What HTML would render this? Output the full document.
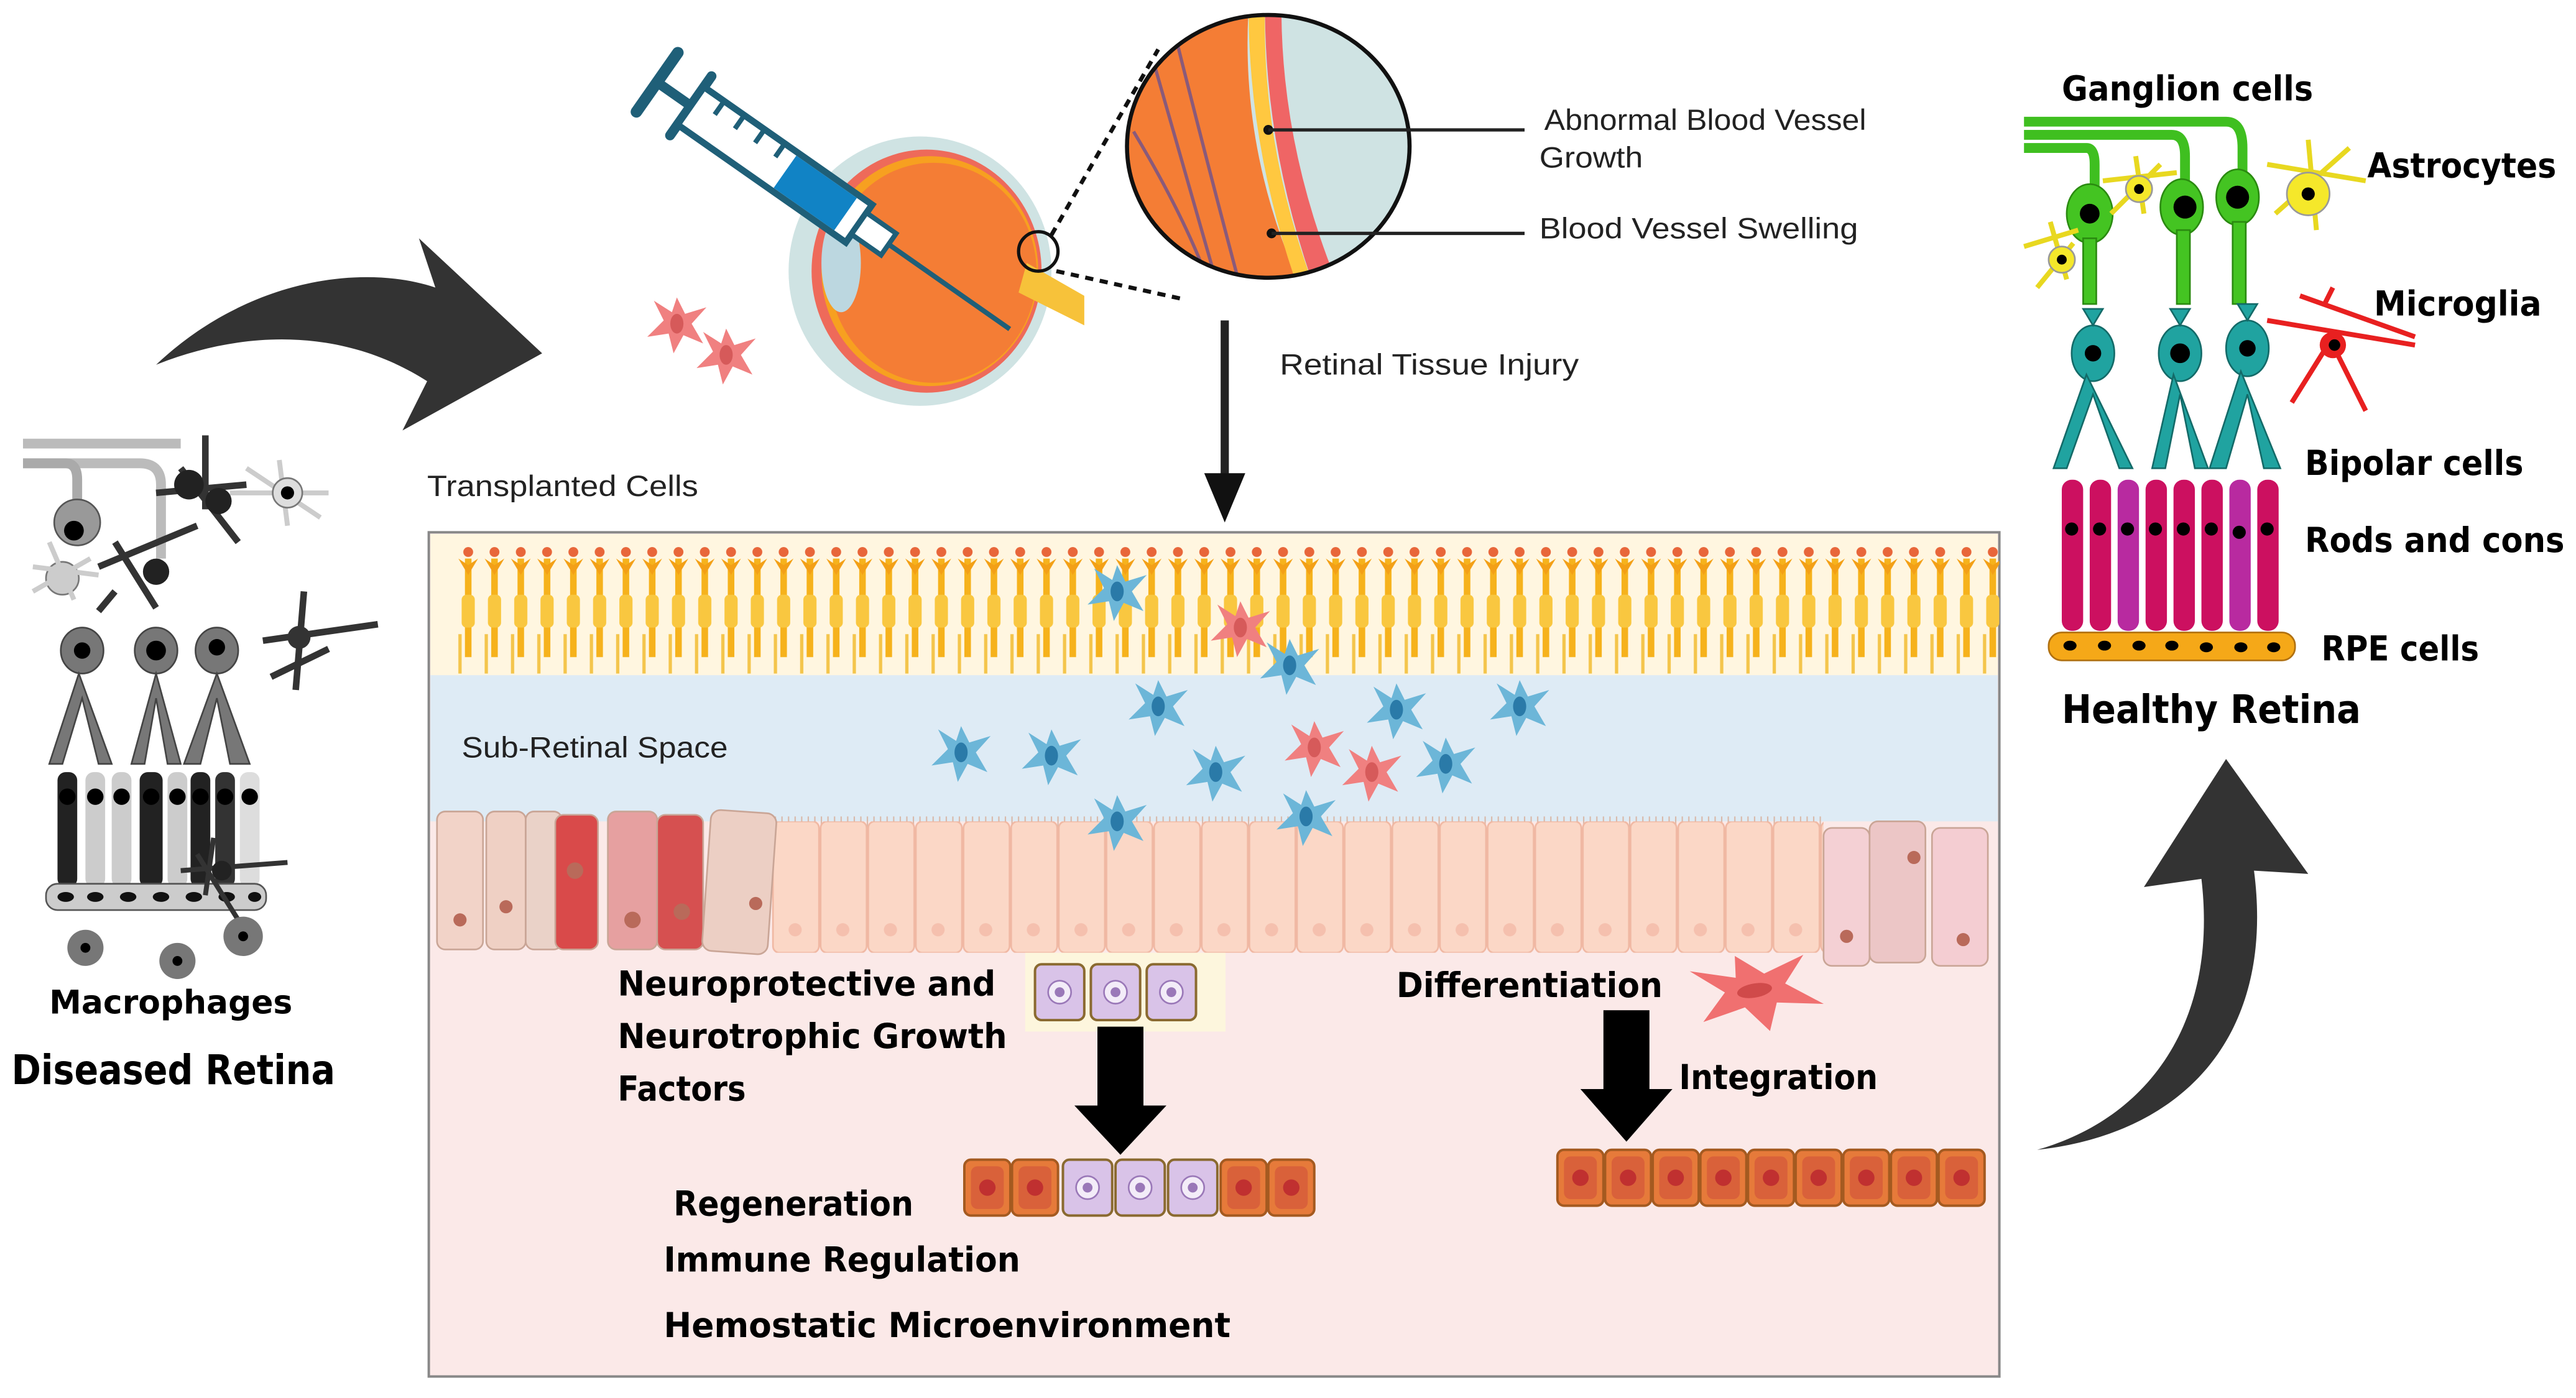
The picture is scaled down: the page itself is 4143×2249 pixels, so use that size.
<!DOCTYPE html>
<html><head><meta charset="utf-8"><style>
html,body{margin:0;padding:0;background:#fff;}
svg{display:block;}
.b{font-family:"DejaVu Sans","Liberation Sans",sans-serif;font-weight:bold;fill:#000;}
.r{font-family:"Liberation Sans","DejaVu Sans",sans-serif;fill:#222;}
</style></head><body>
<svg width="4143" height="2249" viewBox="0 0 1568 851" xmlns="http://www.w3.org/2000/svg">
<defs>
<pattern id="photo" x="277" y="326" width="16" height="86" patternUnits="userSpaceOnUse">
<rect x="6" y="14" width="4" height="60" fill="#f6b21c"/>
<path d="M2 14 L8 24 L14 14 L8 18Z" fill="#f3a016"/>
<circle cx="8" cy="10" r="3" fill="#e8663a"/>
<rect x="4" y="36" width="8" height="20" rx="3" fill="#f9c740"/>
<line x1="3" y1="60" x2="3" y2="84" stroke="#f4c54c" stroke-width="2"/>
</pattern>
<pattern id="peach" x="470" y="500" width="29" height="80" patternUnits="userSpaceOnUse">
<rect x="0.5" y="0" width="28" height="80" rx="4" fill="#fbd7c6" stroke="#f0b8a3" stroke-width="1"/>
<circle cx="14" cy="66" r="4" fill="#f5c0ae"/>
</pattern>
<pattern id="cilia" x="470" y="497" width="4" height="16" patternUnits="userSpaceOnUse">
<line x1="2" y1="0" x2="2" y2="16" stroke="#d8b8a8" stroke-width="0.8"/>
</pattern>
<g id="blue"><path d="M0 -16 L5 -6 L18 -10 L9 0 L16 12 L4 7 L-2 18 L-5 6 L-18 8 L-8 -2 L-14 -14 L-3 -7Z" fill="#6cb6d8"/><ellipse cx="0" cy="0" rx="4" ry="6" fill="#2a7aa8"/></g>
<g id="redc"><path d="M0 -16 L5 -6 L18 -10 L9 0 L16 12 L4 7 L-2 18 L-5 6 L-18 8 L-8 -2 L-14 -14 L-3 -7Z" fill="#f08080"/><ellipse cx="0" cy="0" rx="4" ry="6" fill="#d65a5a"/></g>
<g id="orc"><rect x="0" y="0" width="28" height="34" rx="4" fill="#e67a3a" stroke="#a45a20" stroke-width="1.5"/><rect x="4" y="4" width="20" height="26" rx="4" fill="#d9613a"/><circle cx="14" cy="17" r="5" fill="#c03030"/></g>
<g id="lav"><rect x="0" y="0" width="30" height="34" rx="4" fill="#d9c3e8" stroke="#8a6a30" stroke-width="1.5"/><circle cx="15" cy="17" r="7" fill="#f3ecf8" stroke="#9a78b8"/><circle cx="15" cy="17" r="3" fill="#9a78b8"/></g>
</defs>

<!-- left curved arrow -->
<path d="M95 222 C150 170 220 160 265 175 L255 145 L330 215 L245 262 L260 232 C210 200 150 200 95 222Z" fill="#333"/>

<!-- right curved arrow -->
<path d="M1240 700 C1310 680 1350 620 1340 535 L1305 540 L1355 462 L1405 532 L1372 530 C1385 630 1330 690 1240 700Z" fill="#333"/>

<!-- Diseased retina (grayscale) -->
<g>
<path d="M14 270 L110 270 M14 282 L85 282 Q98 282 98 295 L98 340" stroke="#bbb" stroke-width="6" fill="none"/>
<path d="M14 282 L40 282 Q47 282 47 292 L47 330" stroke="#aaa" stroke-width="6" fill="none"/>
<circle cx="47" cy="318" r="14" fill="#999" stroke="#555"/>
<circle cx="38" cy="352" r="10" fill="#ccc" stroke="#777"/>
<g stroke="#ccc" stroke-width="3" fill="none"><path d="M20 345 L60 350 M30 330 L45 365 M20 360 L55 340"/><path d="M140 300 L200 300 M170 280 L175 320 M150 285 L195 315"/></g>
<circle cx="175" cy="300" r="9" fill="#ddd" stroke="#777"/><circle cx="175" cy="300" r="4" fill="#000"/>
<g stroke="#333" stroke-width="4" fill="none"><path d="M60 345 L120 320 M70 330 L95 370 M95 300 L150 295 M110 285 L145 330 M125 265 L125 310 M70 360 L60 372 M160 390 L230 380 M185 360 L180 420 M165 412 L200 395"/></g>
<circle cx="95" cy="348" r="8" fill="#222"/><circle cx="115" cy="295" r="9" fill="#222"/><circle cx="133" cy="305" r="8" fill="#222"/><circle cx="45" cy="323" r="6" fill="#000"/>
<circle cx="182" cy="388" r="7" fill="#333"/>
<g fill="#777" stroke="#444" stroke-width="1">
<ellipse cx="50" cy="396" rx="13" ry="14"/><ellipse cx="95" cy="396" rx="13" ry="14"/><ellipse cx="132" cy="396" rx="13" ry="14"/>
<path d="M48 410 L30 465 L38 465 L50 425 L60 465 L68 465Z"/><path d="M95 410 L80 465 L88 465 L95 425 L102 465 L110 465Z"/><path d="M132 410 L112 465 L122 465 L132 425 L140 465 L152 465Z"/>
</g>
<circle cx="50" cy="396" r="5" fill="#000"/><circle cx="95" cy="396" r="6" fill="#000"/><circle cx="132" cy="394" r="5" fill="#000"/>
<g>
<rect x="35" y="470" width="12" height="70" rx="5" fill="#222"/><rect x="52" y="470" width="12" height="70" rx="5" fill="#ccc"/><rect x="68" y="470" width="12" height="70" rx="5" fill="#ccc"/><rect x="85" y="470" width="14" height="70" rx="5" fill="#222"/><rect x="102" y="470" width="12" height="70" rx="5" fill="#ccc"/><rect x="116" y="470" width="12" height="70" rx="5" fill="#222"/><rect x="131" y="470" width="12" height="70" rx="5" fill="#333"/><rect x="146" y="470" width="12" height="70" rx="5" fill="#ddd"/>
</g>
<g fill="#000"><circle cx="41" cy="485" r="5"/><circle cx="58" cy="485" r="5"/><circle cx="74" cy="485" r="5"/><circle cx="92" cy="485" r="5"/><circle cx="108" cy="485" r="5"/><circle cx="122" cy="485" r="5"/><circle cx="137" cy="485" r="5"/><circle cx="152" cy="485" r="5"/></g>
<rect x="28" y="538" width="134" height="16" rx="7" fill="#ccc" stroke="#555"/>
<g fill="#111"><ellipse cx="40" cy="546" rx="5" ry="3"/><ellipse cx="58" cy="546" rx="5" ry="3"/><ellipse cx="78" cy="546" rx="5" ry="3"/><ellipse cx="98" cy="546" rx="5" ry="3"/><ellipse cx="118" cy="546" rx="5" ry="3"/><ellipse cx="138" cy="546" rx="5" ry="3"/><ellipse cx="155" cy="546" rx="4" ry="3"/></g>
<g stroke="#333" stroke-width="3" fill="none"><path d="M110 530 L175 525 M120 520 L145 560 M130 510 L125 545"/></g>
<circle cx="135" cy="530" r="6" fill="#222"/>
<g fill="#777"><circle cx="52" cy="577" r="11"/><circle cx="108" cy="585" r="11"/><circle cx="148" cy="570" r="12"/></g>
<g fill="#000"><circle cx="52" cy="577" r="3"/><circle cx="108" cy="585" r="3"/><circle cx="148" cy="570" r="3"/></g>
</g>
<text class="b" x="30" y="617" font-size="20" textLength="148" lengthAdjust="spacingAndGlyphs">Macrophages</text>
<text class="b" x="7" y="660" font-size="25" textLength="197" lengthAdjust="spacingAndGlyphs">Diseased Retina</text>

<!-- eye -->
<ellipse cx="560" cy="165" rx="80" ry="82" fill="#cfe3e3"/>
<ellipse cx="564" cy="165" rx="70" ry="74" fill="#ee6a5a"/>
<ellipse cx="566" cy="165" rx="66" ry="70" fill="#f7a020"/>
<ellipse cx="568" cy="166" rx="63" ry="67" fill="#f47d35"/>
<ellipse cx="512" cy="160" rx="12" ry="30" fill="#bcd7e0"/>
<path d="M625 160 L660 180 L660 198 L620 178Z" fill="#f7c23a"/>
<circle cx="632" cy="153" r="12" fill="none" stroke="#111" stroke-width="2"/>
<!-- syringe -->
<g transform="translate(400,50) rotate(35)">
<line x1="0" y1="-22" x2="0" y2="22" stroke="#1f5f78" stroke-width="7" stroke-linecap="round"/>
<line x1="0" y1="0" x2="25" y2="0" stroke="#1f5f78" stroke-width="6"/>
<line x1="25" y1="-22" x2="25" y2="22" stroke="#1f5f78" stroke-width="6" stroke-linecap="round"/>
<rect x="25" y="-14" width="125" height="28" fill="#fff" stroke="#1f5f78" stroke-width="4"/>
<rect x="95" y="-12" width="45" height="24" fill="#1183c5"/>
<path d="M40 -14 L40 -4 M55 -14 L55 -4 M70 -14 L70 -4 M85 -14 L85 -4" stroke="#1f5f78" stroke-width="3"/>
<rect x="150" y="-8" width="22" height="16" fill="#fff" stroke="#1f5f78" stroke-width="3"/>
<line x1="172" y1="0" x2="262" y2="0" stroke="#1f5f78" stroke-width="3"/>
</g>
<line x1="640" y1="143" x2="705" y2="30" stroke="#111" stroke-width="2.5" stroke-dasharray="5,4"/>
<line x1="643" y1="165" x2="720" y2="182" stroke="#111" stroke-width="2.5" stroke-dasharray="5,4"/>
<!-- magnified -->
<clipPath id="mc"><ellipse cx="772" cy="89" rx="86" ry="80"/></clipPath>
<g clip-path="url(#mc)">
<rect x="680" y="5" width="190" height="170" fill="#cfe3e3"/>
<path d="M680 5 L760 5 Q755 90 790 170 L680 175Z" fill="#f47d35"/>
<path d="M760 5 L770 5 Q768 90 800 175 L790 175 Q760 90 760 5Z" fill="#ffc840"/>
<path d="M770 5 L780 5 Q780 90 815 175 L800 175 Q770 90 770 5Z" fill="#ef6565"/>
<path d="M700 30 Q720 100 740 170 M715 20 Q735 100 755 175 M690 80 Q720 130 735 170" stroke="#8a5a7a" stroke-width="2" fill="none"/>
</g>
<ellipse cx="772" cy="89" rx="86" ry="80" fill="none" stroke="#111" stroke-width="2.5"/>
<circle cx="772" cy="79" r="3" fill="#111"/><circle cx="774" cy="142" r="3" fill="#111"/>
<line x1="772" y1="79" x2="928" y2="79" stroke="#222" stroke-width="2"/>
<line x1="774" y1="142" x2="928" y2="142" stroke="#222" stroke-width="2"/>
<text class="r" x="940" y="79" font-size="18" textLength="196" lengthAdjust="spacingAndGlyphs">Abnormal Blood Vessel</text>
<text class="r" x="937" y="102" font-size="18" textLength="63" lengthAdjust="spacingAndGlyphs">Growth</text>
<text class="r" x="937" y="145" font-size="18" textLength="194" lengthAdjust="spacingAndGlyphs">Blood Vessel Swelling</text>
<text class="r" x="779" y="228" font-size="18" textLength="182" lengthAdjust="spacingAndGlyphs">Retinal Tissue Injury</text>
<text class="r" x="260" y="302" font-size="18" textLength="165" lengthAdjust="spacingAndGlyphs">Transplanted Cells</text>

<use href="#redc" x="412" y="197"/><use href="#redc" x="442" y="216"/>

<!-- down arrow -->
<rect x="743" y="195" width="5" height="95" fill="#222"/>
<path d="M733 288 L758 288 L745.5 318Z" fill="#111"/>

<!-- main box -->
<rect x="261" y="324" width="956" height="514" fill="#fbe9e8" stroke="#888" stroke-width="1.5"/>
<rect x="262" y="410" width="954" height="90" fill="#deebf5"/>
<rect x="262" y="325" width="954" height="86" fill="#fff6e0"/>
<rect x="277" y="325" width="940" height="86" fill="url(#photo)"/>
<rect x="470" y="497" width="640" height="16" fill="url(#cilia)"/>
<rect x="470" y="500" width="640" height="80" fill="url(#peach)"/>
<g stroke="#c9a596" stroke-width="1">
<rect x="266" y="494" width="28" height="84" rx="5" fill="#f2d3c8"/><rect x="296" y="494" width="24" height="84" rx="5" fill="#efd0c4"/><rect x="320" y="494" width="22" height="84" rx="5" fill="#ead2c8"/>
<rect x="338" y="496" width="26" height="82" rx="5" fill="#d94a4a"/><rect x="370" y="494" width="30" height="84" rx="5" fill="#e6a0a0"/><rect x="400" y="496" width="28" height="82" rx="5" fill="#d65050"/>
<rect x="430" y="494" width="40" height="86" rx="6" fill="#eccfc4" transform="rotate(4 450 537)"/>
<rect x="1110" y="504" width="28" height="84" rx="5" fill="#f4d0d4"/><rect x="1138" y="500" width="34" height="86" rx="5" fill="#ecc6c6"/><rect x="1176" y="504" width="34" height="84" rx="5" fill="#f4cdd2"/>
</g>
<g fill="#b96a5a"><circle cx="280" cy="560" r="4"/><circle cx="308" cy="552" r="4"/><circle cx="350" cy="530" r="5"/><circle cx="385" cy="560" r="5"/><circle cx="415" cy="555" r="5"/><circle cx="460" cy="550" r="4"/><circle cx="1124" cy="570" r="4"/><circle cx="1165" cy="522" r="4"/><circle cx="1195" cy="572" r="4"/></g>
<text class="r" x="281" y="461" font-size="18" textLength="162" lengthAdjust="spacingAndGlyphs">Sub-Retinal Space</text>

<use href="#blue" x="680" y="360"/><use href="#redc" x="755" y="382"/>
<use href="#blue" x="785" y="405"/><use href="#blue" x="705" y="430"/><use href="#blue" x="585" y="458"/>
<use href="#blue" x="640" y="460"/><use href="#blue" x="740" y="470"/><use href="#blue" x="850" y="432"/>
<use href="#redc" x="800" y="455"/><use href="#redc" x="835" y="470"/><use href="#blue" x="880" y="465"/><use href="#blue" x="925" y="430"/>
<use href="#blue" x="680" y="500"/><use href="#blue" x="795" y="497"/>

<rect x="624" y="580" width="122" height="48" fill="#fdf6dd"/>
<use href="#lav" x="630" y="587"/><use href="#lav" x="664" y="587"/><use href="#lav" x="698" y="587"/>
<rect x="668" y="625" width="28" height="50" fill="#000"/><path d="M654 673 L710 673 L682 703Z" fill="#000"/>
<use href="#orc" x="587" y="706"/><use href="#orc" x="616" y="706"/>
<use href="#lav" x="647" y="706"/><use href="#lav" x="679" y="706"/><use href="#lav" x="711" y="706"/>
<use href="#orc" x="743" y="706"/><use href="#orc" x="772" y="706"/>
<rect x="976" y="615" width="28" height="50" fill="#000"/><path d="M962 663 L1018 663 L990 695Z" fill="#000"/>
<use href="#orc" x="948" y="700"/><use href="#orc" x="977" y="700"/><use href="#orc" x="1006" y="700"/><use href="#orc" x="1035" y="700"/><use href="#orc" x="1064" y="700"/><use href="#orc" x="1093" y="700"/><use href="#orc" x="1122" y="700"/><use href="#orc" x="1151" y="700"/><use href="#orc" x="1180" y="700"/>
<g transform="translate(1068,603) scale(2.2,1.4) rotate(-20)"><path d="M0 -16 L5 -6 L18 -10 L9 0 L16 12 L4 7 L-2 18 L-5 6 L-18 8 L-8 -2 L-14 -14 L-3 -7Z" fill="#f07070"/><ellipse cx="0" cy="0" rx="5" ry="3" fill="#d04a4a"/></g>

<text class="b" x="376" y="606" font-size="21" textLength="230" lengthAdjust="spacingAndGlyphs">Neuroprotective and</text>
<text class="b" x="376" y="638" font-size="21" textLength="237" lengthAdjust="spacingAndGlyphs">Neurotrophic Growth</text>
<text class="b" x="376" y="670" font-size="21" textLength="78" lengthAdjust="spacingAndGlyphs">Factors</text>
<text class="b" x="850" y="607" font-size="21" textLength="162" lengthAdjust="spacingAndGlyphs">Differentiation</text>
<text class="b" x="1022" y="663" font-size="21" textLength="121" lengthAdjust="spacingAndGlyphs">Integration</text>
<text class="b" x="410" y="740" font-size="21" textLength="146" lengthAdjust="spacingAndGlyphs">Regeneration</text>
<text class="b" x="404" y="774" font-size="21" textLength="217" lengthAdjust="spacingAndGlyphs">Immune Regulation</text>
<text class="b" x="404" y="814" font-size="21" textLength="345" lengthAdjust="spacingAndGlyphs">Hemostatic  Microenvironment</text>

<!-- Healthy retina -->
<g>
<path d="M1232 74 L1355 74 Q1365 74 1365 90 L1365 110 M1232 82 L1322 82 Q1330 82 1330 95 L1330 115 M1232 90 L1270 90 Q1275 90 1275 100 L1275 115" stroke="#3fbf20" stroke-width="6" fill="none"/>
<g fill="#44c422" stroke="#2a8a10"><ellipse cx="1272" cy="130" rx="14" ry="18"/><ellipse cx="1328" cy="126" rx="13" ry="17"/><ellipse cx="1362" cy="120" rx="13" ry="17"/>
<rect x="1268" y="145" width="8" height="40"/><rect x="1325" y="140" width="8" height="45"/><rect x="1359" y="135" width="8" height="50"/></g>
<g fill="#000"><circle cx="1272" cy="130" r="6"/><circle cx="1330" cy="126" r="7"/><circle cx="1362" cy="120" r="7"/></g>
<g stroke="#e8d820" stroke-width="3" fill="none"><path d="M1280 110 L1325 105 M1300 95 L1305 130 M1285 130 L1315 100 M1232 150 L1265 140 M1240 175 L1262 148 M1248 135 L1258 170 M1380 100 L1440 110 M1405 85 L1410 140 M1385 130 L1430 90"/></g>
<g fill="#f5e82a" stroke="#999"><circle cx="1302" cy="115" r="8"/><circle cx="1255" cy="158" r="8"/><circle cx="1405" cy="118" r="13"/></g>
<g fill="#000"><circle cx="1302" cy="115" r="3"/><circle cx="1255" cy="158" r="3"/><circle cx="1405" cy="118" r="4"/></g>
<g fill="#20a3a0" stroke="#136a68"><ellipse cx="1274" cy="215" rx="13" ry="17"/><ellipse cx="1327" cy="215" rx="13" ry="17"/><ellipse cx="1368" cy="212" rx="13" ry="17"/>
<path d="M1270 228 L1250 285 L1258 285 L1274 240 L1290 285 L1298 285Z"/><path d="M1323 228 L1310 285 L1318 285 L1327 240 L1336 285 L1344 285Z"/><path d="M1364 226 L1345 285 L1355 285 L1368 240 L1378 285 L1388 285Z"/>
<path d="M1268 188 L1280 188 L1274 198Z"/><path d="M1321 188 L1333 188 L1327 198Z"/><path d="M1362 185 L1374 185 L1368 195Z"/></g>
<g fill="#000"><circle cx="1274" cy="215" r="5"/><circle cx="1327" cy="215" r="6"/><circle cx="1368" cy="212" r="5"/></g>
<g stroke="#e82020" stroke-width="3" fill="none"><path d="M1380 195 L1470 210 M1415 185 L1420 175 M1420 205 L1395 245 M1420 210 L1440 250 M1400 180 L1470 205"/></g>
<circle cx="1420" cy="210" r="8" fill="#e82020"/><circle cx="1421" cy="210" r="3.5" fill="#000"/>
<g fill="#cc1060"><rect x="1255" y="292" width="13" height="92" rx="6"/><rect x="1272" y="292" width="13" height="92" rx="6"/><rect x="1306" y="292" width="13" height="92" rx="6"/><rect x="1323" y="292" width="13" height="92" rx="6"/><rect x="1340" y="292" width="13" height="92" rx="6"/><rect x="1374" y="292" width="13" height="92" rx="6"/></g>
<g fill="#b82aa0"><rect x="1289" y="292" width="13" height="92" rx="6"/><rect x="1357" y="292" width="13" height="92" rx="6"/></g>
<g fill="#000"><circle cx="1261" cy="322" r="4"/><circle cx="1278" cy="322" r="4"/><circle cx="1295" cy="322" r="4"/><circle cx="1312" cy="322" r="4"/><circle cx="1329" cy="322" r="4"/><circle cx="1346" cy="322" r="4"/><circle cx="1363" cy="324" r="4"/><circle cx="1380" cy="322" r="4"/></g>
<rect x="1247" y="385" width="150" height="17" rx="8" fill="#f5a818" stroke="#b07010"/>
<g fill="#000"><ellipse cx="1260" cy="393" rx="4" ry="3"/><ellipse cx="1281" cy="393" rx="4" ry="3"/><ellipse cx="1302" cy="393" rx="4" ry="3"/><ellipse cx="1322" cy="393" rx="4" ry="3"/><ellipse cx="1343" cy="394" rx="4" ry="3"/><ellipse cx="1364" cy="394" rx="4" ry="3"/><ellipse cx="1384" cy="394" rx="4" ry="3"/></g>
</g>
<text class="b" x="1255" y="61" font-size="21" textLength="153" lengthAdjust="spacingAndGlyphs">Ganglion cells</text>
<text class="b" x="1441" y="108" font-size="21" textLength="115" lengthAdjust="spacingAndGlyphs">Astrocytes</text>
<text class="b" x="1445" y="192" font-size="21" textLength="102" lengthAdjust="spacingAndGlyphs">Microglia</text>
<text class="b" x="1403" y="289" font-size="21" textLength="133" lengthAdjust="spacingAndGlyphs">Bipolar cells</text>
<text class="b" x="1403" y="336" font-size="21" textLength="158" lengthAdjust="spacingAndGlyphs">Rods and cons</text>
<text class="b" x="1413" y="402" font-size="21" textLength="96" lengthAdjust="spacingAndGlyphs">RPE cells</text>
<text class="b" x="1255" y="440" font-size="24" textLength="182" lengthAdjust="spacingAndGlyphs">Healthy Retina</text>
</svg>
</body></html>
